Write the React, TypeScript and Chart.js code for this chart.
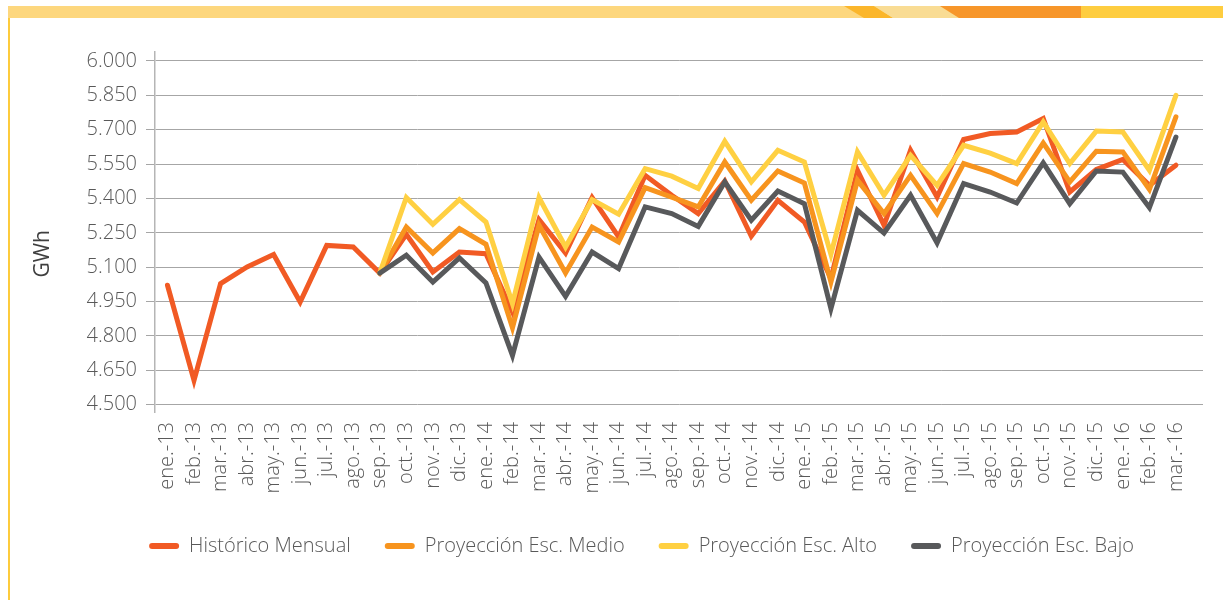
import React, { useEffect, useRef } from "react";
import { Chart, registerables } from "chart.js";

Chart.register(...registerables);

const months = [
  "ene.-13", "feb.-13", "mar.-13", "abr.-13", "may.-13", "jun.-13", "jul.-13", "ago.-13", "sep.-13", "oct.-13", "nov.-13", "dic.-13",
  "ene.-14", "feb.-14", "mar.-14", "abr.-14", "may.-14", "jun.-14", "jul.-14", "ago.-14", "sep.-14", "oct.-14", "nov.-14", "dic.-14",
  "ene.-15", "feb.-15", "mar.-15", "abr.-15", "may.-15", "jun.-15", "jul.-15", "ago.-15", "sep.-15", "oct.-15", "nov.-15", "dic.-15",
  "ene.-16", "feb.-16", "mar.-16",
];

const historico = [
  5021, 4606, 5028, 5101, 5155, 4948, 5195, 5188, 5074, 5243, 5079, 5166,
  5159, 4904, 5308, 5162, 5404, 5232, 5501, 5414, 5334, 5476, 5235, 5392,
  5297, 5050, 5523, 5283, 5610, 5406, 5657, 5683, 5690, 5749, 5428, 5526,
  5570, 5457, 5545,
];

const medio = [
  null, null, null, null, null, null, null, null, 5074, 5275, 5162, 5268,
  5200, 4836, 5283, 5075, 5275, 5210, 5447, 5406, 5363, 5559, 5392, 5520,
  5467, 5035, 5479, 5334, 5501, 5334, 5552, 5515, 5465, 5642, 5472, 5606,
  5603, 5439, 5756,
];

const alto = [
  null, null, null, null, null, null, null, null, 5074, 5404, 5287, 5395,
  5297, 4941, 5404, 5188, 5395, 5331, 5530, 5497, 5443, 5649, 5472, 5610,
  5559, 5156, 5603, 5414, 5588, 5457, 5632, 5598, 5552, 5734, 5552, 5694,
  5690, 5523, 5850,
];

const bajo = [
  null, null, null, null, null, null, null, null, 5074, 5152, 5035, 5140,
  5031, 4715, 5144, 4973, 5166, 5094, 5363, 5334, 5278, 5472, 5305, 5432,
  5377, 4919, 5348, 5249, 5414, 5206, 5465, 5428, 5380, 5555, 5377, 5520,
  5515, 5360, 5668,
];

const yTicks = [4500, 4650, 4800, 4950, 5100, 5250, 5400, 5550, 5700, 5850, 6000];

const seriesNames = ["Histórico Mensual", "Proyección Esc. Medio", "Proyección Esc. Alto", "Proyección Esc. Bajo"];
const seriesColors = ["#F15A24", "#F7941E", "#FFD042", "#58595B"];

const FONT = "'Open Sans', 'Lato', sans-serif";
const TEXT = "#595959";

function fmtThousands(v: number): string {
  const t = Math.floor(v / 1000);
  const r = Math.round(v % 1000);
  return t + "." + String(r).padStart(3, "0");
}

const legendShift = {
  id: "legendShift",
  afterLayout(chart: any, _args: any, opts: any) {
    const lg = chart.legend;
    if (!lg) return;
    lg.left += opts.dx;
    lg.right += opts.dx;
    lg.top += opts.dy;
    lg.bottom += opts.dy;
  },
};

export default function App() {
  const ref = useRef<HTMLCanvasElement | null>(null);

  useEffect(() => {
    if (!ref.current) return;
    const all = [historico, medio, alto, bajo];
    const datasets = all.map((arr, k) => ({
      label: seriesNames[k],
      data: months.map((_, i) => ({ x: i, y: arr[i] })),
      borderColor: seriesColors[k],
      backgroundColor: seriesColors[k],
      borderWidth: 5,
      pointRadius: 0,
      pointHoverRadius: 0,
      tension: 0,
      fill: false,
      borderCapStyle: "round" as const,
      borderJoinStyle: "miter" as const,
      order: 3 - k,
    }));

    const chart = new Chart(ref.current, {
      type: "line",
      data: { datasets },
      plugins: [legendShift],
      options: {
        animation: false,
        responsive: false,
        devicePixelRatio: 1,
        layout: { padding: { left: 30, right: 20, top: 52, bottom: 0 } },
        scales: {
          x: {
            type: "linear",
            min: -0.47,
            max: 39.02,
            afterBuildTicks: (s: any) => {
              s.ticks = months.map((_, i) => ({ value: i }));
            },
            afterFit: (s: any) => {
              s.height = 124;
            },
            ticks: {
              autoSkip: false,
              minRotation: 90,
              maxRotation: 90,
              padding: 10,
              color: TEXT,
              font: { family: FONT, size: 20, weight: "300" },
              callback: (v: any) => months[v as number] ?? "",
            },
            grid: { display: false, drawTicks: false },
            border: { display: false },
          },
          y: {
            min: 4468,
            max: 6039,
            afterBuildTicks: (s: any) => {
              s.ticks = yTicks.map((v) => ({ value: v }));
            },
            afterFit: (s: any) => {
              s.width = 125;
            },
            ticks: {
              padding: 9,
              color: TEXT,
              font: { family: FONT, size: 20, weight: "300" },
              callback: (v: any) => fmtThousands(Number(v)),
            },
            grid: { color: "#a6a6a6", lineWidth: 1, tickLength: 9, drawTicks: true },
            border: { display: true, color: "#b5b5b5", width: 1.5 },
            title: {
              display: true,
              text: "GWh        ",
              color: "#3f3f3f",
              font: { family: FONT, size: 21, weight: "normal" },
              padding: 0,
            },
          },
        },
        plugins: {
          legendShift: { dx: 25, dy: -34 },
          tooltip: { enabled: false },
          legend: {
            position: "bottom",
            labels: {
              boxWidth: 30,
              boxHeight: 6,
              useBorderRadius: true,
              borderRadius: 3,
              padding: 34,
              color: TEXT,
              font: { family: FONT, size: 20, weight: "300" },
              sort: (a: any, b: any) => a.datasetIndex - b.datasetIndex,
              generateLabels: (c: any) =>
                Chart.defaults.plugins.legend.labels.generateLabels(c).map((it: any) => ({
                  ...it,
                  lineWidth: 0,
                })),
            },
          },
        } as any,
      },
    });
    return () => chart.destroy();
  }, []);

  return (
    <div style={{ position: "absolute", left: 0, top: 0, width: 1223, height: 600, background: "#fff" }}>
      <canvas ref={ref} width={1223} height={600} style={{ position: "absolute", left: 0, top: 0 }} />
      <svg width={1223} height={600} style={{ position: "absolute", left: 0, top: 0, pointerEvents: "none" }}>
        <rect x={8} y={6} width={1215} height={12} fill="#FDD77E" />
        <polygon points="844,6 874,6 893,18 864,18" fill="#FBB62B" />
        <polygon points="874,6 940,6 959,18 893,18" fill="#F9DC94" />
        <polygon points="940,6 1081,6 1081,18 959,18" fill="#F7962A" />
        <rect x={1081} y={6} width={142} height={12} fill="#FECD40" />
        <rect x={8} y={18} width={2} height={582} fill="#FDCB3C" />
      </svg>
    </div>
  );
}
